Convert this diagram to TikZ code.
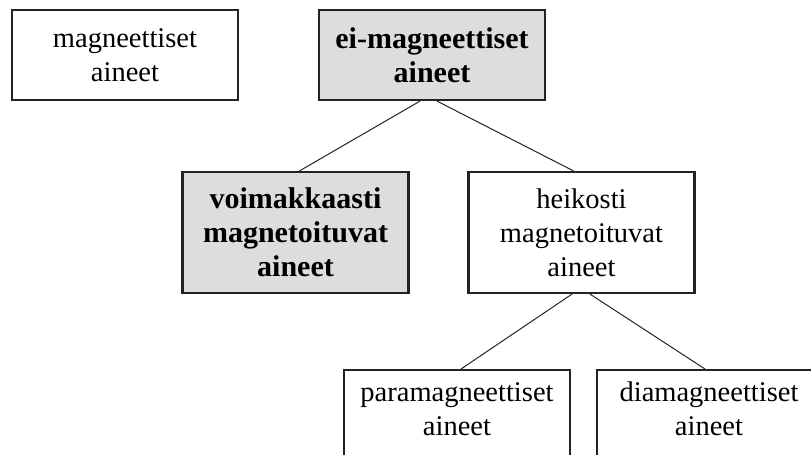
\documentclass[tikz,border=0pt]{standalone}
\usepackage{fontspec}
\setmainfont{Liberation Serif}
\definecolor{boxgray}{RGB}{220,221,223}
\definecolor{edgecol}{RGB}{35,35,35}
\begin{document}
\begin{tikzpicture}[x=1pt,y=-1pt,
  box/.style={draw=edgecol, line width=2.2pt, minimum width=226pt, align=center,
    font=\fontsize{28.5}{34}\selectfont, inner sep=0pt},
  shaded/.style={fill=boxgray, font=\fontsize{30}{34}\selectfont\bfseries},
  link/.style={line width=1pt, draw=edgecol}]
\useasboundingbox (0,0) rectangle (811,455);
\clip (0,0) rectangle (811,455);
\node[box, minimum height=90pt] (mag) at (125,55) {magneettiset\\aineet};
\node[box, shaded, minimum height=90pt] (ei) at (432,55) {ei-magneettiset\\aineet};
\node[box, shaded, minimum height=121pt] (voim) at (295.5,232.5) {voimakkaasti\\magnetoituvat\\aineet};
\node[box, minimum height=121pt] (heik) at (581.5,232.5) {heikosti\\magnetoituvat\\aineet};
\node[box, minimum height=112pt, anchor=north] (para) at (457,369) {paramagneettiset\\aineet\\\mbox{}};
\node[box, minimum height=112pt, minimum width=224pt, anchor=north] (dia) at (709,369) {diamagneettiset\\aineet\\\mbox{}};
\draw[link] ([xshift=-12pt]ei.south) -- ([xshift=4pt]voim.north);
\draw[link] ([xshift=5pt]ei.south) -- ([xshift=-8pt]heik.north);
\draw[link] ([xshift=-9.5pt]heik.south) -- ([xshift=4pt]para.north);
\draw[link] ([xshift=8.5pt]heik.south) -- ([xshift=-4pt]dia.north);
\end{tikzpicture}
\end{document}
